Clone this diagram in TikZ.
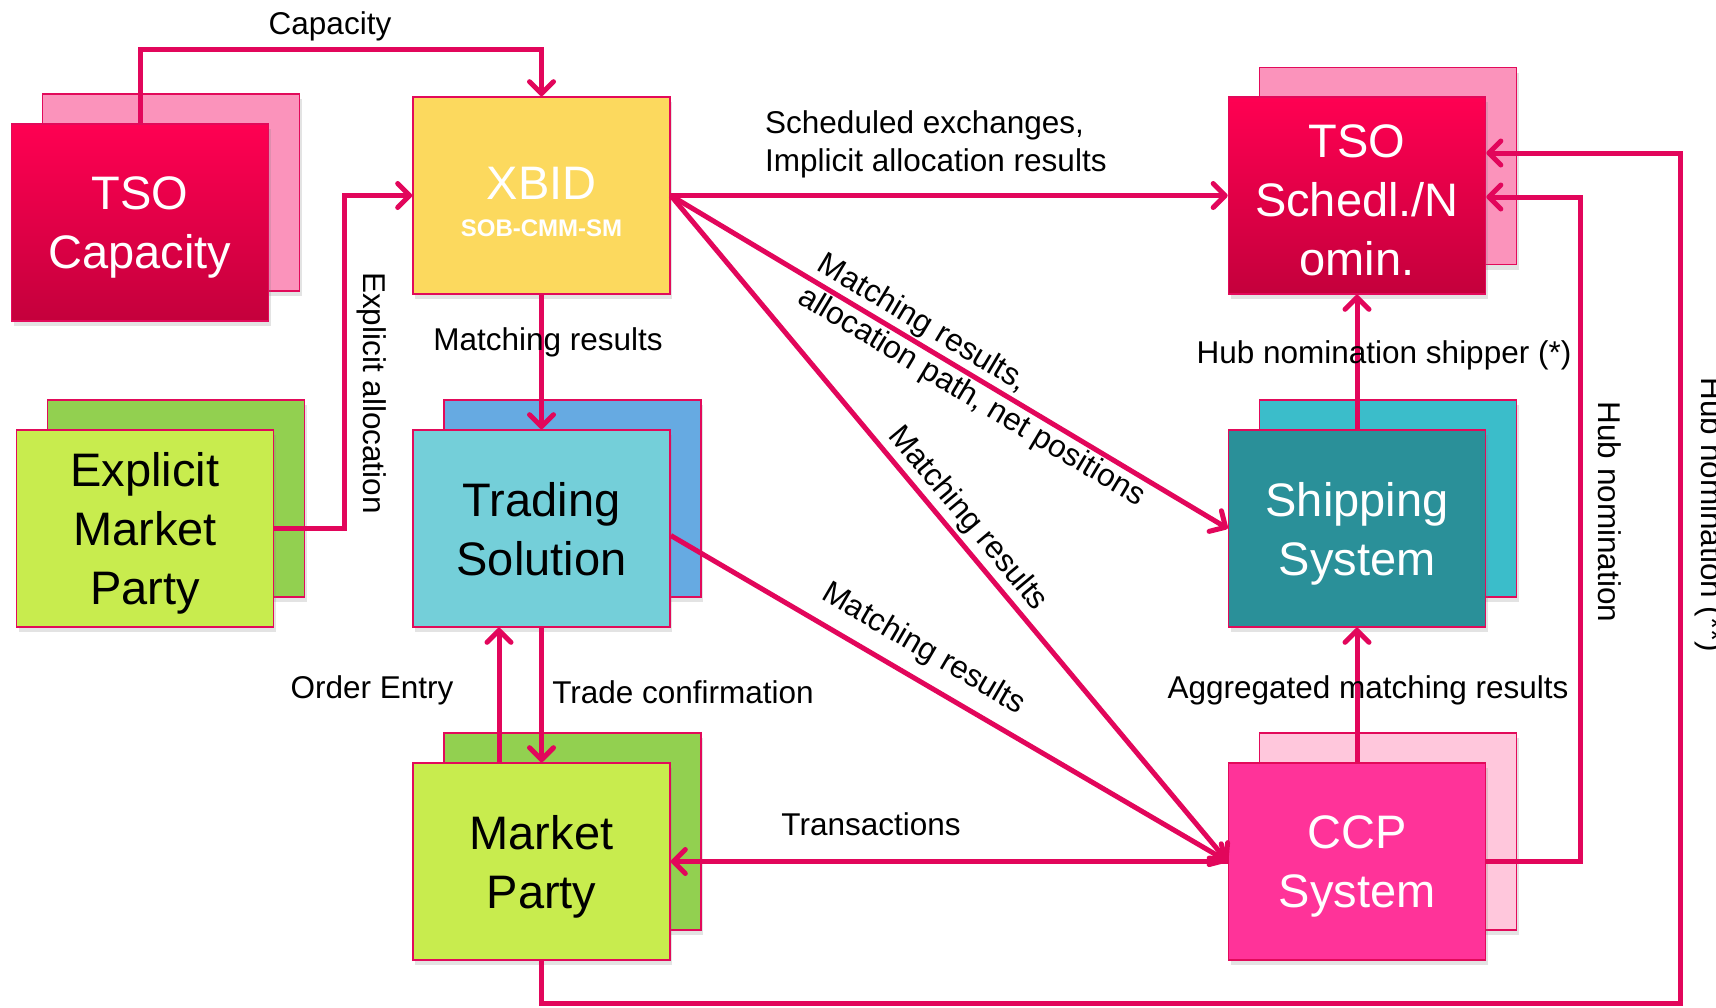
\documentclass[tikz,border=0pt]{standalone}
\usepackage{fontspec}
\setmainfont{Liberation Sans}
\usetikzlibrary{arrows.meta,shadows,calc}
\definecolor{arrc}{RGB}{226,6,91}
\definecolor{bordc}{RGB}{226,10,90}
\definecolor{tsoTop}{RGB}{255,0,82}
\definecolor{tsoBot}{RGB}{196,0,60}
\definecolor{tsoBack}{RGB}{251,147,187}
\definecolor{xbidc}{RGB}{252,217,94}
\definecolor{greenFront}{RGB}{200,236,78}
\definecolor{greenBack}{RGB}{146,208,80}
\definecolor{tsFront}{RGB}{116,207,217}
\definecolor{tsBack}{RGB}{102,170,226}
\definecolor{shipFront}{RGB}{42,144,153}
\definecolor{shipBack}{RGB}{59,189,202}
\definecolor{ccpFront}{RGB}{255,51,153}
\definecolor{ccpBack}{RGB}{255,199,220}
\begin{document}
\begin{tikzpicture}[x=1pt,y=-1pt,
  boxbase/.style={draw=bordc, line width=1.6pt, minimum width=257pt, minimum height=197pt,
    inner sep=0pt, drop shadow={shadow xshift=2pt,shadow yshift=-5pt,opacity=0.22}},
  box/.style={boxbase, align=center, text depth=0pt, font=\fontsize{47}{59}\selectfont},
  backbox/.style={boxbase},
  arr/.style={draw=arrc, line width=5pt, -{Straight Barb[length=12pt,width=24pt,round]}},
  lbl/.style={font=\fontsize{31.5}{38}\selectfont, inner sep=0pt, text=black},
]
\useasboundingbox (0,0) rectangle (1716,1007);
\fill[white] (0,0) rectangle (1716,1007);
\clip (0,0) rectangle (1716,1007);

% back boxes
\node[backbox, fill=tsoBack] (tsocapB) at (171,192.5) {};
\node[backbox, fill=tsoBack] (tsosB) at (1388,166) {};
\node[backbox, fill=greenBack] (empB) at (176,498.5) {};
\node[backbox, fill=tsBack] (tsB) at (572.5,498.5) {};
\node[backbox, fill=shipBack] (shipB) at (1388,498.5) {};
\node[backbox, fill=greenBack] (mpB) at (572.5,831.5) {};
\node[backbox, fill=ccpBack] (ccpB) at (1388,831.5) {};

% front boxes
\node[box, top color=tsoTop, bottom color=tsoBot, text=white] (tsocap) at (140,222.5) {TSO\\Capacity};
\node[box, fill=xbidc, text=white] (xbid) at (541.5,195.5) {\rule{0pt}{44pt}XBID\\[-22pt]{\fontsize{24}{28}\selectfont\bfseries SOB-CMM-SM}};
\node[box, top color=tsoTop, bottom color=tsoBot, text=white] (tsos) at (1357,195.5) {\rule{0pt}{41pt}TSO\\Schedl./N\\omin.};
\node[box, fill=greenFront, text=black] (emp) at (145,528.5) {Explicit\\Market\\Party};
\node[box, fill=tsFront, text=black] (ts) at (541.5,528.5) {Trading\\Solution};
\node[box, fill=shipFront, text=white] (ship) at (1357,528.5) {Shipping\\System};
\node[box, fill=greenFront, text=black] (mp) at (541.5,861.5) {Market\\Party};
\node[box, fill=ccpFront, text=white] (ccp) at (1357,861.5) {CCP\\System};

% helper coordinates
\coordinate (capY) at (0,49);
\coordinate (expX) at (344,0);
\coordinate (oeX) at (499,0);
\coordinate (hn) at (1580,197);
\coordinate (hnA) at (541.5,1003);
\coordinate (hnB) at (1680,153);

% connectors
\draw[arr] (tsocap.north) -- (tsocap.north |- capY) -| (xbid.north);
\draw[arr] (emp.east) -- (emp.east -| expX) |- (xbid.west);
\draw[arr] (xbid.south) -- (ts.north);
\draw[arr] (xbid.east) -- (tsos.west);
\draw[arr] (xbid.east) -- node[lbl, sloped, pos=0.557, align=left] (lMR1) {Matching results,\\allocation path, net positions} (ship.west);
\draw[arr] (xbid.east) -- node[lbl, sloped, above=3pt, pos=0.505] (lMR2) {Matching results} (ccp.west);
\draw[arr] ([yshift=-7pt]ts.east) -- node[lbl, sloped, above=12pt, pos=0.427] (lMR3) {Matching results} (ccp.west);
\draw[arr] (mp.north -| oeX) -- (ts.south -| oeX);
\draw[arr] (ts.south) -- (mp.north);
\draw[arr] (ccp.west) -- (mp.east);
\draw[arr] (ccp.north) -- (ship.south);
\draw[arr] (ship.north) -- (tsos.south);
\draw[arr] (ccp.east) -| (hn) -- (hn -| tsos.east);
\draw[arr] (mp.south) -- (hnA) -| (hnB) -- (hnB -| tsos.east);

% labels
\node[lbl] (lCap) at (330,26) {Capacity};
\node[lbl, rotate=-90] (lExp) at (372,393) {Explicit allocation};
\node[lbl] (lMR0) at (548,342) {Matching results};
\node[lbl, anchor=west, align=left] (lSched) at (765,144) {Scheduled exchanges,\\Implicit allocation results};
\node[lbl] (lOE) at (372,690) {Order Entry};
\node[lbl] (lTC) at (683,692) {Trade confirmation};
\node[lbl] (lTr) at (871,824) {Transactions};
\node[lbl] (lAgg) at (1368,690) {Aggregated matching results};
\node[lbl] (lHS) at (1384,355) {Hub nomination shipper (*)};
\node[lbl, rotate=-90] (lHub) at (1610,512) {Hub nomination};
\node[lbl, rotate=-90] (lHub2) at (1710,515) {Hub nomination (**)};
\end{tikzpicture}
\end{document}
